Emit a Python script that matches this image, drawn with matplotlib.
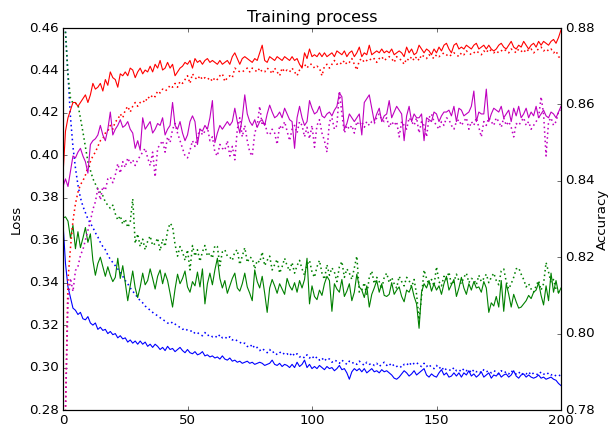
import numpy as np
import matplotlib
matplotlib.use("Agg")
import matplotlib.pyplot as plt

plt.style.use("classic")
plt.rcParams["font.size"] = 12

epochs = list(range(201))

# loss, first model (solid) and second model (dotted)
loss_a = [
    0.368, 0.349, 0.338, 0.333, 0.328, 0.327, 0.325, 0.326, 0.323, 0.3225,
    0.324, 0.321, 0.320, 0.321, 0.318, 0.319, 0.3175, 0.318, 0.316, 0.317,
    0.3155, 0.316, 0.314, 0.315, 0.3135, 0.314, 0.312, 0.313, 0.3115, 0.3125,
    0.311, 0.3125, 0.311, 0.312, 0.310, 0.311, 0.3095, 0.311, 0.310, 0.3085,
    0.3095, 0.308, 0.310, 0.3085, 0.309, 0.3075, 0.3085, 0.3095, 0.308, 0.307,
    0.3085, 0.307, 0.3065, 0.3075, 0.306, 0.3065, 0.3075, 0.3055, 0.306, 0.305,
    0.3055, 0.3045, 0.305, 0.304, 0.3055, 0.304, 0.3035, 0.3045, 0.303, 0.3035,
    0.3025, 0.303, 0.302, 0.3025, 0.303, 0.302, 0.3025, 0.3015, 0.302, 0.3025,
    0.302, 0.301, 0.3015, 0.302, 0.3035, 0.3015, 0.301, 0.302, 0.3005, 0.3015,
    0.301, 0.300, 0.3015, 0.300, 0.3025, 0.3005, 0.3015, 0.3035, 0.300, 0.3015,
    0.2995, 0.3005, 0.2995, 0.301, 0.300, 0.299, 0.3005, 0.2995, 0.300, 0.2985,
    0.2995, 0.301, 0.299, 0.2995, 0.2975, 0.2945, 0.298, 0.2995, 0.2985, 0.2995,
    0.298, 0.2995, 0.2975, 0.2985, 0.2995, 0.298, 0.2985, 0.2975, 0.299, 0.298,
    0.2985, 0.2975, 0.2965, 0.295, 0.2945, 0.2955, 0.297, 0.2985, 0.2975, 0.296,
    0.297, 0.2985, 0.2965, 0.2975, 0.2985, 0.2995, 0.2965, 0.2955, 0.297, 0.296,
    0.2955, 0.2975, 0.299, 0.2965, 0.2975, 0.2955, 0.296, 0.2975, 0.296, 0.2975,
    0.2955, 0.2975, 0.2965, 0.2985, 0.296, 0.297, 0.2955, 0.2965, 0.298, 0.2955,
    0.2965, 0.2975, 0.295, 0.2965, 0.296, 0.2975, 0.2955, 0.2965, 0.297, 0.2955,
    0.2965, 0.2985, 0.296, 0.295, 0.2965, 0.297, 0.2955, 0.2965, 0.2955, 0.295,
    0.2955, 0.2965, 0.295, 0.2955, 0.2945, 0.295, 0.2955, 0.2945, 0.294, 0.2925,
    0.2915,
]
loss_b = [
    0.49, 0.458, 0.438, 0.418, 0.404, 0.394, 0.386, 0.380, 0.376, 0.373,
    0.370, 0.368, 0.366, 0.3635, 0.3615, 0.359, 0.357, 0.3555, 0.353, 0.351,
    0.3495, 0.348, 0.3465, 0.345, 0.343, 0.341, 0.3395, 0.3375, 0.336, 0.3345,
    0.333, 0.3315, 0.3305, 0.329, 0.328, 0.327, 0.326, 0.325, 0.3245, 0.3235,
    0.3225, 0.322, 0.321, 0.3205, 0.3215, 0.3205, 0.3195, 0.319, 0.318, 0.3185,
    0.3175, 0.317, 0.3175, 0.316, 0.3165, 0.3155, 0.315, 0.3165, 0.315, 0.3155,
    0.3145, 0.315, 0.314, 0.3155, 0.314, 0.3145, 0.3135, 0.3145, 0.313, 0.3135,
    0.3125, 0.312, 0.311, 0.3115, 0.310, 0.3095, 0.311, 0.309, 0.3095, 0.308,
    0.309, 0.308, 0.307, 0.3085, 0.307, 0.3075, 0.306, 0.307, 0.3075, 0.306,
    0.3065, 0.3055, 0.307, 0.3055, 0.3065, 0.305, 0.3055, 0.3045, 0.306, 0.3045,
    0.3055, 0.304, 0.305, 0.3035, 0.3045, 0.303, 0.3045, 0.304, 0.3025, 0.3035,
    0.303, 0.302, 0.3035, 0.3025, 0.3015, 0.303, 0.302, 0.3025, 0.3015, 0.303,
    0.302, 0.301, 0.3025, 0.3015, 0.302, 0.301, 0.302, 0.3005, 0.3015, 0.3025,
    0.301, 0.302, 0.3005, 0.3015, 0.3005, 0.301, 0.300, 0.3015, 0.301, 0.3025,
    0.301, 0.302, 0.3025, 0.301, 0.3005, 0.302, 0.3005, 0.3015, 0.300, 0.2995,
    0.301, 0.2995, 0.3005, 0.2985, 0.2995, 0.299, 0.2985, 0.300, 0.2985, 0.299,
    0.298, 0.2995, 0.2985, 0.299, 0.2975, 0.299, 0.298, 0.2985, 0.2975, 0.299,
    0.298, 0.2985, 0.2975, 0.2985, 0.298, 0.297, 0.2985, 0.2975, 0.298, 0.297,
    0.2985, 0.2975, 0.297, 0.298, 0.2965, 0.2975, 0.297, 0.298, 0.2965, 0.2975,
    0.297, 0.2965, 0.298, 0.297, 0.2965, 0.2975, 0.2965, 0.297, 0.296, 0.2965,
    0.296,
]
loss_c = [
    0.3705, 0.371, 0.369, 0.361, 0.367, 0.356, 0.364, 0.3565, 0.361, 0.366,
    0.359, 0.363, 0.3505, 0.3435, 0.349, 0.352, 0.3475, 0.343, 0.3475, 0.3435,
    0.3405, 0.3425, 0.3515, 0.342, 0.348, 0.340, 0.3315, 0.3385, 0.3455, 0.3375,
    0.333, 0.338, 0.3445, 0.339, 0.341, 0.3465, 0.342, 0.337, 0.343, 0.346,
    0.3395, 0.3445, 0.341, 0.335, 0.3285, 0.337, 0.344, 0.3395, 0.342, 0.3455,
    0.338, 0.3355, 0.3405, 0.3385, 0.345, 0.338, 0.3465, 0.330, 0.3395, 0.3445,
    0.339, 0.346, 0.3515, 0.342, 0.3375, 0.341, 0.335, 0.3385, 0.342, 0.3445,
    0.3375, 0.336, 0.3395, 0.3445, 0.338, 0.335, 0.3315, 0.346, 0.3405, 0.3375,
    0.343, 0.335, 0.326, 0.3375, 0.3415, 0.3385, 0.335, 0.3395, 0.337, 0.3345,
    0.342, 0.3385, 0.3365, 0.340, 0.3355, 0.341, 0.3375, 0.3415, 0.3515, 0.330,
    0.3385, 0.3335, 0.332, 0.3365, 0.334, 0.3395, 0.343, 0.341, 0.3265, 0.3395,
    0.337, 0.3355, 0.3415, 0.3335, 0.336, 0.3395, 0.3315, 0.3355, 0.344, 0.338,
    0.3365, 0.333, 0.3385, 0.3285, 0.3345, 0.3375, 0.341, 0.3355, 0.3395, 0.334,
    0.3335, 0.3345, 0.340, 0.3345, 0.3365, 0.338, 0.3335, 0.331, 0.3365, 0.3355,
    0.3385, 0.3335, 0.330, 0.3185, 0.3355, 0.3395, 0.3375, 0.341, 0.336, 0.3395,
    0.3365, 0.3385, 0.3345, 0.3395, 0.343, 0.3365, 0.339, 0.3415, 0.3335, 0.3375,
    0.3425, 0.3375, 0.3345, 0.3395, 0.3365, 0.3405, 0.3375, 0.338, 0.3355, 0.3405,
    0.3375, 0.326, 0.3305, 0.329, 0.3335, 0.3285, 0.341, 0.3265, 0.3395, 0.3345,
    0.3285, 0.3345, 0.331, 0.328, 0.3285, 0.330, 0.3315, 0.334, 0.3325, 0.3355,
    0.3365, 0.340, 0.334, 0.3295, 0.3385, 0.3315, 0.3445, 0.3355, 0.341, 0.335,
    0.3375,
]
loss_d = [
    0.50, 0.458, 0.438, 0.427, 0.4245, 0.4245, 0.424, 0.4175, 0.411, 0.404,
    0.397, 0.393, 0.389, 0.3865, 0.384, 0.3825, 0.381, 0.378, 0.3765, 0.375,
    0.3765, 0.3725, 0.3695, 0.3715, 0.3675, 0.370, 0.366, 0.3685, 0.3795, 0.3585,
    0.363, 0.357, 0.3605, 0.3555, 0.3595, 0.362, 0.3575, 0.3585, 0.361, 0.355,
    0.3605, 0.357, 0.3645, 0.368, 0.3665, 0.358, 0.3525, 0.357, 0.3545, 0.3505,
    0.3555, 0.346, 0.3575, 0.3525, 0.3555, 0.350, 0.3545, 0.3575, 0.3525, 0.354,
    0.3515, 0.3575, 0.357, 0.348, 0.3545, 0.3555, 0.3525, 0.352, 0.3505, 0.3545,
    0.3555, 0.3485, 0.3525, 0.3565, 0.3495, 0.352, 0.3515, 0.3465, 0.3505, 0.3495,
    0.3545, 0.348, 0.3505, 0.3525, 0.346, 0.3485, 0.351, 0.3445, 0.3475, 0.3515,
    0.348, 0.3455, 0.3495, 0.3445, 0.348, 0.3505, 0.3465, 0.3435, 0.3485, 0.3505,
    0.345, 0.3425, 0.3475, 0.3505, 0.3445, 0.3415, 0.3485, 0.3435, 0.347, 0.345,
    0.3405, 0.3475, 0.350, 0.3425, 0.3465, 0.3445, 0.3415, 0.347, 0.3525, 0.3355,
    0.3365, 0.340, 0.334, 0.3425, 0.3455, 0.3395, 0.3425, 0.3405, 0.337, 0.3425,
    0.3445, 0.340, 0.3425, 0.3395, 0.3375, 0.343, 0.3405, 0.3385, 0.3425, 0.341,
    0.338, 0.3415, 0.3345, 0.3225, 0.3335, 0.346, 0.342, 0.339, 0.3415, 0.3385,
    0.3475, 0.3405, 0.3385, 0.343, 0.3415, 0.345, 0.339, 0.3405, 0.344, 0.341,
    0.3395, 0.3425, 0.3445, 0.340, 0.342, 0.3415, 0.339, 0.3435, 0.3405, 0.342,
    0.344, 0.340, 0.3425, 0.3445, 0.341, 0.339, 0.3455, 0.3465, 0.3405, 0.337,
    0.3395, 0.3425, 0.3465, 0.347, 0.344, 0.3415, 0.338, 0.3395, 0.337, 0.3355,
    0.3385, 0.341, 0.3365, 0.3395, 0.3495, 0.345, 0.340, 0.3415, 0.337, 0.3355,
    0.3365,
]

# accuracy, first model (solid) and second model (dotted)
acc_a = [
    0.8415, 0.853, 0.8565, 0.8585, 0.8605, 0.8605, 0.8595, 0.8605, 0.8615, 0.8625,
    0.8605, 0.8625, 0.8655, 0.864, 0.8645, 0.8655, 0.8635, 0.8665, 0.865, 0.8685,
    0.867, 0.8665, 0.8645, 0.868, 0.8675, 0.8685, 0.8675, 0.8695, 0.869, 0.867,
    0.8685, 0.8695, 0.868, 0.869, 0.8685, 0.870, 0.8685, 0.8705, 0.8695, 0.8715,
    0.869, 0.8695, 0.871, 0.8695, 0.8705, 0.8675, 0.8685, 0.8695, 0.870, 0.871,
    0.8705, 0.8715, 0.8695, 0.872, 0.871, 0.8715, 0.8705, 0.8715, 0.872, 0.871,
    0.8715, 0.871, 0.8705, 0.8715, 0.8705, 0.871, 0.8715, 0.8705, 0.8725, 0.8735,
    0.872, 0.8705, 0.872, 0.8725, 0.872, 0.8715, 0.871, 0.872, 0.8715, 0.8735,
    0.8755, 0.8715, 0.871, 0.8725, 0.872, 0.8715, 0.8725, 0.872, 0.8715, 0.8725,
    0.872, 0.8715, 0.8725, 0.8715, 0.872, 0.8705, 0.8695, 0.8735, 0.872, 0.8745,
    0.8725, 0.873, 0.8725, 0.8735, 0.8725, 0.8735, 0.8725, 0.873, 0.8735, 0.8725,
    0.874, 0.8735, 0.873, 0.874, 0.8725, 0.8735, 0.874, 0.8725, 0.8735, 0.875,
    0.8725, 0.8735, 0.873, 0.8755, 0.873, 0.8735, 0.874, 0.8735, 0.8745, 0.8735,
    0.874, 0.8735, 0.8745, 0.873, 0.8735, 0.874, 0.8735, 0.8725, 0.875, 0.8735,
    0.8745, 0.873, 0.8735, 0.8755, 0.8745, 0.8735, 0.8745, 0.874, 0.873, 0.8745,
    0.8735, 0.875, 0.874, 0.8755, 0.876, 0.8745, 0.8735, 0.8755, 0.876, 0.8745,
    0.875, 0.8745, 0.8755, 0.875, 0.8745, 0.8755, 0.876, 0.8745, 0.875, 0.8755,
    0.8745, 0.8755, 0.8745, 0.874, 0.8745, 0.8755, 0.876, 0.875, 0.8745, 0.8755,
    0.8765, 0.875, 0.8745, 0.8755, 0.875, 0.8765, 0.8755, 0.8745, 0.8755, 0.876,
    0.875, 0.8765, 0.8755, 0.8765, 0.876, 0.8755, 0.8765, 0.877, 0.876, 0.8775,
    0.8795,
]
acc_b = [
    0.70, 0.78, 0.814, 0.8225, 0.8295, 0.834, 0.837, 0.839, 0.840, 0.8415,
    0.8435, 0.845, 0.8465, 0.8475, 0.849, 0.8505, 0.851, 0.8525, 0.853, 0.8545,
    0.8535, 0.8555, 0.856, 0.8575, 0.8565, 0.8585, 0.8595, 0.858, 0.8595, 0.8605,
    0.8595, 0.8605, 0.861, 0.8605, 0.862, 0.8615, 0.8625, 0.862, 0.8635, 0.863,
    0.864, 0.8635, 0.864, 0.865, 0.8645, 0.8655, 0.8645, 0.866, 0.8655, 0.8665,
    0.8675, 0.8655, 0.868, 0.867, 0.8665, 0.8675, 0.8665, 0.867, 0.8665, 0.867,
    0.866, 0.867, 0.8665, 0.8675, 0.868, 0.866, 0.867, 0.8675, 0.867, 0.8695,
    0.869, 0.8685, 0.8685, 0.869, 0.8695, 0.8685, 0.8695, 0.869, 0.8685, 0.8695,
    0.8685, 0.8685, 0.8695, 0.869, 0.868, 0.8695, 0.8685, 0.8675, 0.8695, 0.8685,
    0.869, 0.8685, 0.8695, 0.8685, 0.8675, 0.869, 0.870, 0.8705, 0.8695, 0.8705,
    0.8705, 0.8695, 0.870, 0.8695, 0.8675, 0.870, 0.8705, 0.8695, 0.8705, 0.8715,
    0.8705, 0.871, 0.8705, 0.8715, 0.8705, 0.871, 0.872, 0.8705, 0.869, 0.8715,
    0.872, 0.871, 0.8715, 0.872, 0.8715, 0.872, 0.871, 0.872, 0.8725, 0.8715,
    0.872, 0.8725, 0.872, 0.871, 0.8725, 0.872, 0.8715, 0.8705, 0.872, 0.8715,
    0.8725, 0.8715, 0.8725, 0.8715, 0.873, 0.8725, 0.872, 0.873, 0.8725, 0.872,
    0.873, 0.8725, 0.873, 0.8735, 0.873, 0.8725, 0.873, 0.8735, 0.873, 0.8725,
    0.8735, 0.873, 0.874, 0.8735, 0.873, 0.8735, 0.874, 0.8735, 0.873, 0.874,
    0.8735, 0.8745, 0.874, 0.8735, 0.874, 0.8735, 0.874, 0.8745, 0.874, 0.8735,
    0.8745, 0.874, 0.8735, 0.8745, 0.874, 0.8735, 0.8745, 0.874, 0.8745, 0.8735,
    0.874, 0.8745, 0.875, 0.874, 0.8745, 0.874, 0.8745, 0.8735, 0.874, 0.8725,
    0.872,
]
acc_c = [
    0.8385, 0.8405, 0.8385, 0.8425, 0.8465, 0.846, 0.8475, 0.8485, 0.8465, 0.845,
    0.842, 0.8495, 0.8505, 0.851, 0.852, 0.8545, 0.852, 0.8505, 0.8535, 0.858,
    0.852, 0.8535, 0.8545, 0.856, 0.854, 0.8545, 0.8555, 0.8535, 0.8525, 0.8485,
    0.8505, 0.848, 0.8565, 0.8535, 0.8545, 0.8555, 0.8525, 0.8535, 0.855, 0.8545,
    0.8565, 0.852, 0.8535, 0.8545, 0.8605, 0.8545, 0.8535, 0.8555, 0.8525, 0.8505,
    0.852, 0.8555, 0.857, 0.8555, 0.8495, 0.8535, 0.853, 0.8545, 0.8535, 0.8565,
    0.861, 0.850, 0.8525, 0.8545, 0.8535, 0.8545, 0.8555, 0.8545, 0.8555, 0.859,
    0.8555, 0.8525, 0.8565, 0.8625, 0.8575, 0.8555, 0.8545, 0.856, 0.854, 0.8555,
    0.856, 0.8545, 0.8575, 0.8598, 0.858, 0.8565, 0.857, 0.858, 0.8565, 0.859,
    0.8575, 0.856, 0.8555, 0.8485, 0.8565, 0.8595, 0.8565, 0.8545, 0.8555, 0.861,
    0.859, 0.8575, 0.858, 0.8595, 0.857, 0.8565, 0.8575, 0.858, 0.857, 0.8585,
    0.8595, 0.863, 0.862, 0.8535, 0.855, 0.8575, 0.8565, 0.8555, 0.8565, 0.8575,
    0.852, 0.8605, 0.8615, 0.8625, 0.859, 0.8555, 0.8575, 0.859, 0.8555, 0.857,
    0.8575, 0.861, 0.8565, 0.858, 0.8595, 0.8585, 0.8575, 0.8505, 0.857, 0.8595,
    0.8555, 0.8575, 0.8565, 0.8565, 0.8575, 0.8505, 0.8565, 0.856, 0.8555, 0.858,
    0.8575, 0.8555, 0.857, 0.858, 0.858, 0.8585, 0.857, 0.8595, 0.8555, 0.859,
    0.8585, 0.857, 0.8575, 0.858, 0.8595, 0.8635, 0.8555, 0.858, 0.8575, 0.8575,
    0.864, 0.8555, 0.8575, 0.859, 0.8585, 0.858, 0.8595, 0.8565, 0.8575, 0.8585,
    0.8555, 0.859, 0.857, 0.8595, 0.8565, 0.8575, 0.859, 0.8565, 0.858, 0.857,
    0.8595, 0.8565, 0.8575, 0.8585, 0.857, 0.8565, 0.858, 0.8575, 0.8565, 0.858,
    0.8595,
]
acc_d = [
    0.70, 0.78, 0.808, 0.8145, 0.811, 0.8165, 0.8175, 0.8205, 0.822, 0.8245,
    0.827, 0.8295, 0.8325, 0.8345, 0.838, 0.835, 0.8385, 0.8375, 0.8405, 0.841,
    0.8395, 0.8415, 0.8445, 0.842, 0.845, 0.8435, 0.846, 0.8445, 0.8455, 0.844,
    0.8455, 0.8465, 0.8475, 0.8485, 0.846, 0.844, 0.8475, 0.841, 0.8485, 0.8495,
    0.8505, 0.8475, 0.8515, 0.850, 0.8535, 0.855, 0.8525, 0.8505, 0.8485, 0.8465,
    0.846, 0.848, 0.8505, 0.849, 0.8515, 0.8535, 0.852, 0.853, 0.854, 0.8505,
    0.8515, 0.8475, 0.8465, 0.8495, 0.8485, 0.848, 0.8505, 0.8465, 0.849, 0.8455,
    0.8535, 0.8565, 0.8515, 0.8545, 0.8505, 0.8475, 0.8465, 0.8525, 0.8545, 0.8595,
    0.8545, 0.8555, 0.8525, 0.852, 0.8535, 0.8525, 0.8495, 0.8545, 0.8535, 0.8555,
    0.853, 0.8505, 0.8535, 0.8545, 0.8525, 0.8555, 0.8545, 0.8515, 0.854, 0.851,
    0.8545, 0.8488, 0.8545, 0.856, 0.8525, 0.8505, 0.8475, 0.8555, 0.8565, 0.8535,
    0.8545, 0.8635, 0.8575, 0.8525, 0.8545, 0.8535, 0.8545, 0.8525, 0.8555, 0.8545,
    0.8555, 0.854, 0.8555, 0.8545, 0.8555, 0.855, 0.8565, 0.8575, 0.856, 0.8555,
    0.8565, 0.854, 0.8555, 0.8545, 0.8555, 0.8515, 0.8555, 0.8545, 0.8535, 0.8565,
    0.8555, 0.8545, 0.8565, 0.8525, 0.8555, 0.8545, 0.8515, 0.8565, 0.8575, 0.8555,
    0.8545, 0.8535, 0.8555, 0.8545, 0.8565, 0.856, 0.8545, 0.8535, 0.8555, 0.856,
    0.8545, 0.8555, 0.8565, 0.8535, 0.8555, 0.8545, 0.8565, 0.854, 0.8515, 0.8555,
    0.8545, 0.8565, 0.8555, 0.8545, 0.8565, 0.8555, 0.854, 0.8565, 0.8545, 0.8555,
    0.854, 0.8515, 0.855, 0.8545, 0.8555, 0.8565, 0.8545, 0.8555, 0.8535, 0.8545,
    0.8555, 0.8565, 0.862, 0.8575, 0.8465, 0.8555, 0.8565, 0.8545, 0.8555, 0.858,
    0.8585,
]

dots = (0, (1.4, 2.8))

fig = plt.figure(figsize=(611 / 80, 429 / 80), dpi=80)
ax = fig.add_axes([63 / 611, 19 / 429, 498 / 611, 382 / 429])
ax.plot(epochs, loss_a, color="b", lw=1.0)
ax.plot(epochs, loss_b, color="b", lw=1.4, linestyle=dots)
ax.plot(epochs, loss_c, color="g", lw=1.0)
ax.plot(epochs, loss_d, color="g", lw=1.4, linestyle=dots)
ax.set_xlim(0, 200)
ax.set_ylim(0.28, 0.46)
ax.set_ylabel("Loss")
ax.set_title("Training process")

ax2 = ax.twinx()
ax2.plot(epochs, acc_a, color="r", lw=1.0)
ax2.plot(epochs, acc_b, color="r", lw=1.4, linestyle=dots)
ax2.plot(epochs, acc_c, color="m", lw=1.0)
ax2.plot(epochs, acc_d, color="m", lw=1.4, linestyle=dots)
ax2.set_ylim(0.78, 0.88)
ax2.set_ylabel("Accuracy", labelpad=1)

fig.savefig("out.png", dpi=80)
